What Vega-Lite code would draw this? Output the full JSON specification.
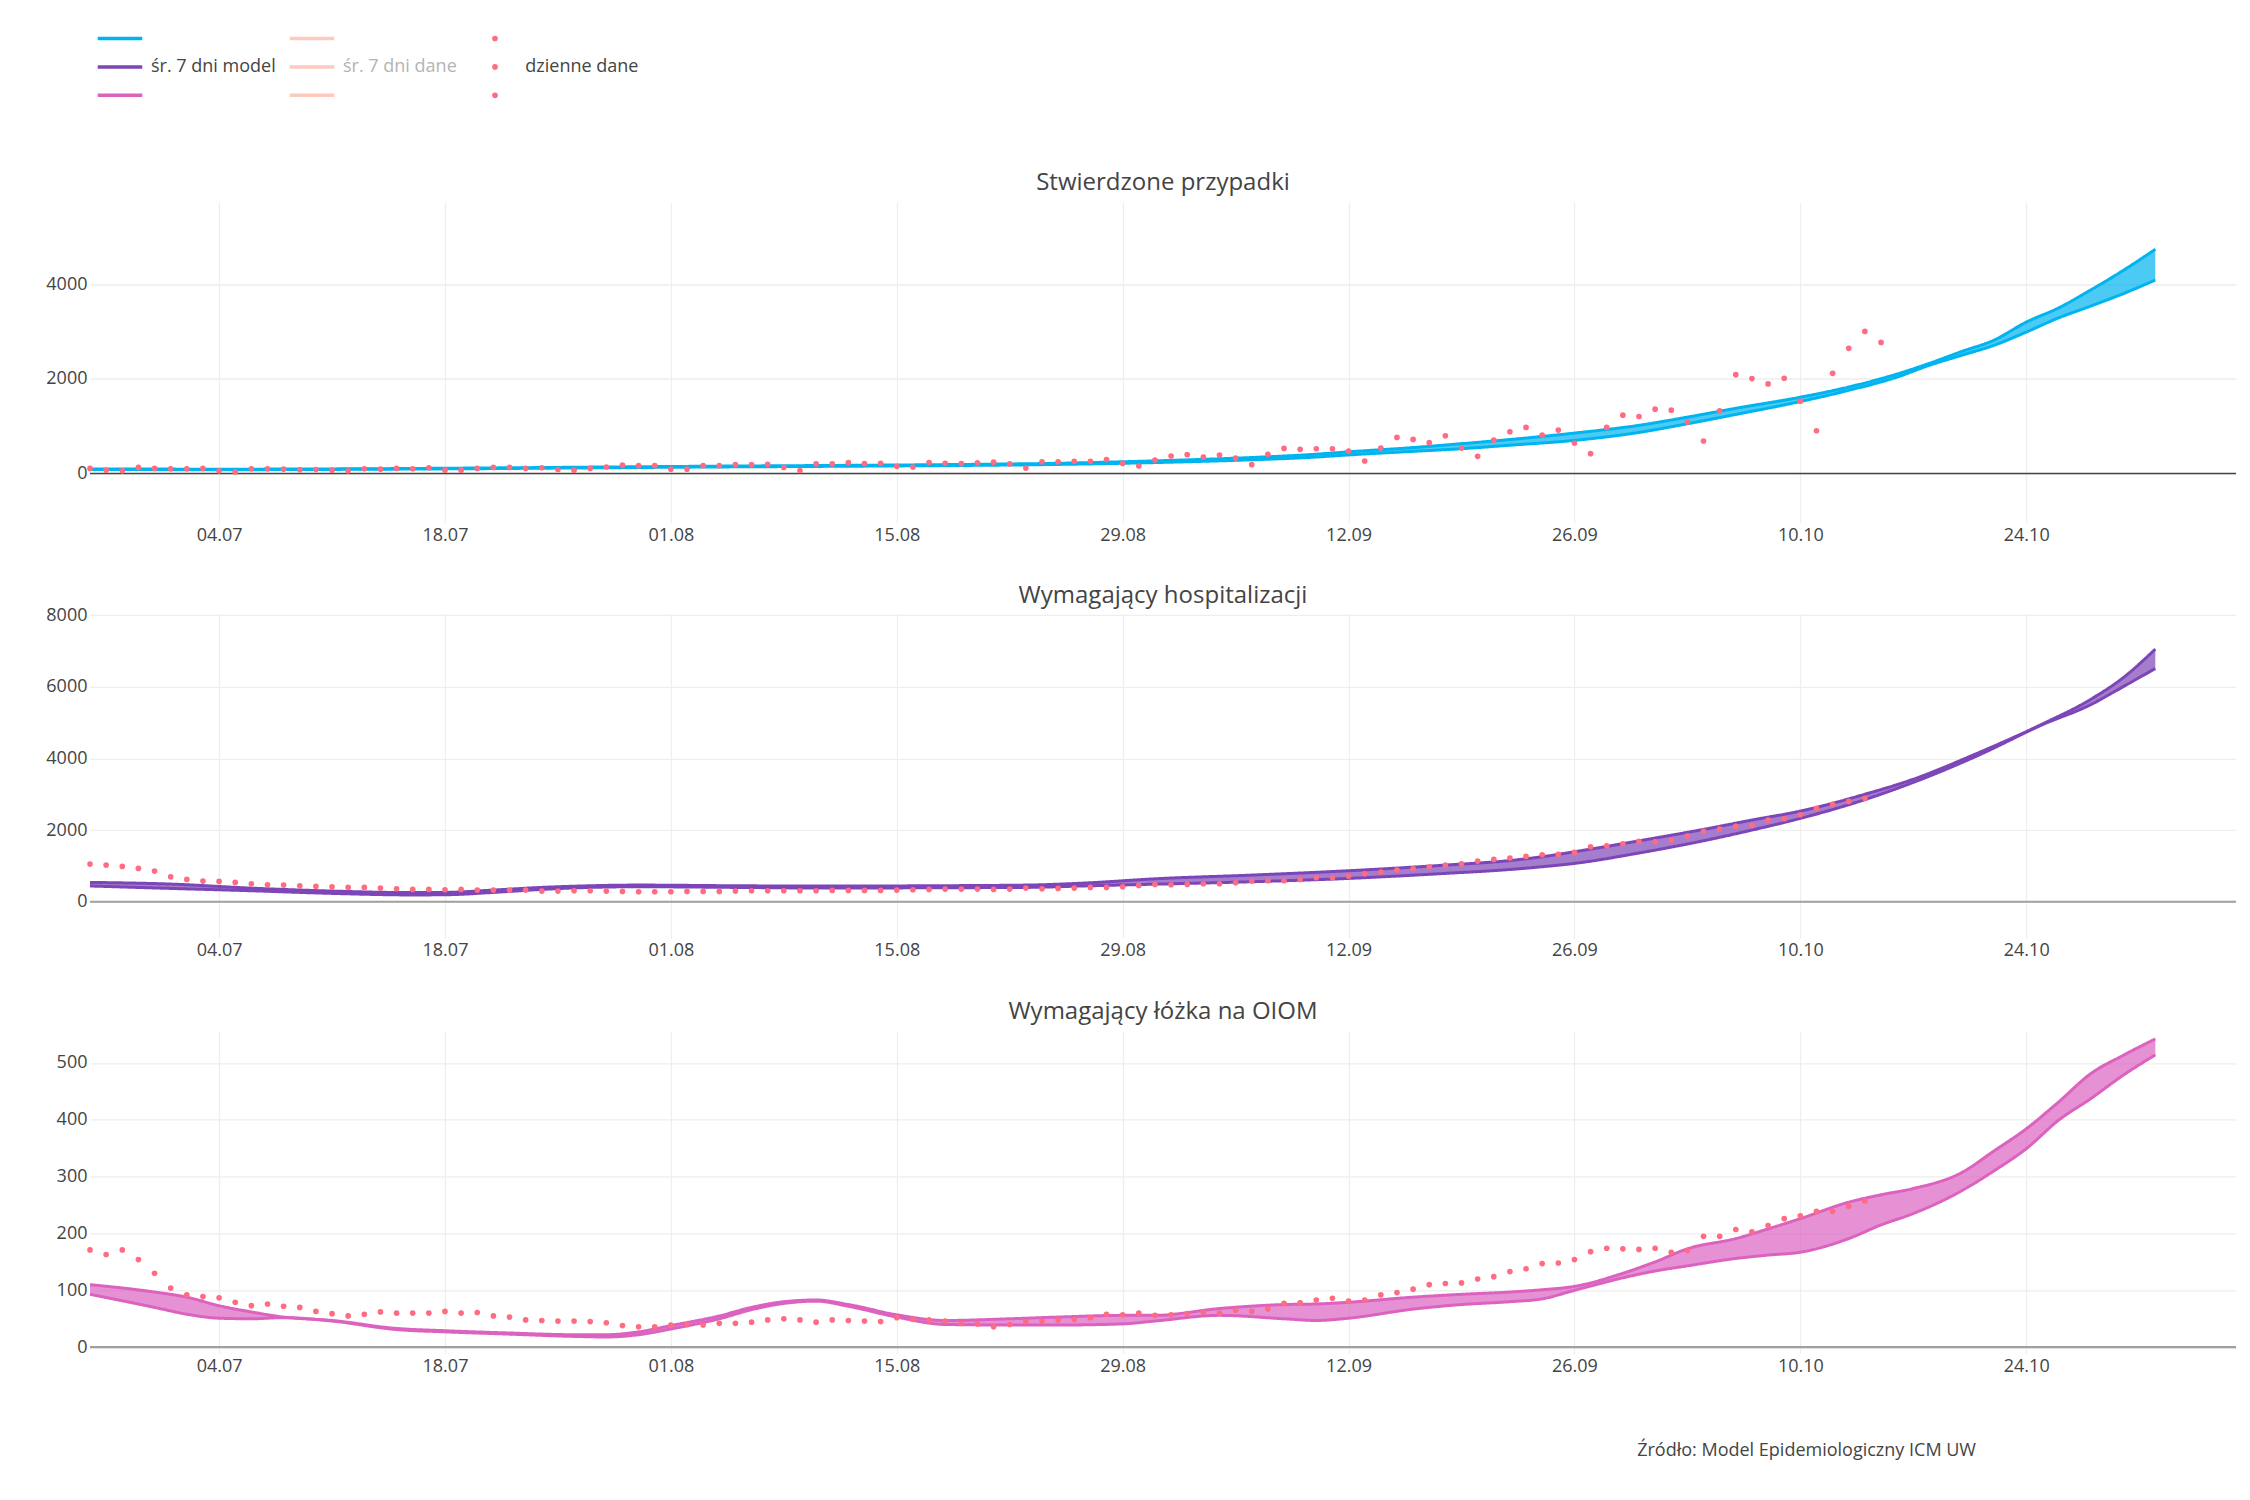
{
  "$schema": "https://vega.github.io/schema/vega-lite/v6.json",
  "padding": {"top": 29.5, "left": 44, "right": 10, "bottom": 10},
  "background": "white",
  "spacing": 39.4,
  "title": {"text": "Źródło: Model Epidemiologiczny ICM UW", "orient": "bottom", "anchor": "end", "dx": -260, "offset": 67, "fontSize": 18, "fontWeight": "normal", "color": "#444", "baseline": "top", "frame": "group"},
  "config": {
    "font": "Open Sans",
    "view": {"stroke": null},
    "axis": {"labelFont": "Open Sans", "labelFontSize": 18, "labelColor": "#444", "domain": false, "ticks": false, "tickSize": 0, "gridColor": "#eeeeee", "gridWidth": 1.3},
    "title": {"font": "Open Sans", "fontSize": 24, "fontWeight": "normal", "color": "#444"},
    "legend": {"labelFont": "Open Sans", "labelFontSize": 18}
  },
  "datasets": {
    "model": [
      {"panel":"przypadki","date":"2020-06-26","upper":100,"lower":88},
      {"panel":"przypadki","date":"2020-06-30","upper":96,"lower":84},
      {"panel":"przypadki","date":"2020-07-04","upper":93,"lower":82},
      {"panel":"przypadki","date":"2020-07-08","upper":96,"lower":85},
      {"panel":"przypadki","date":"2020-07-12","upper":101,"lower":90},
      {"panel":"przypadki","date":"2020-07-16","upper":108,"lower":96},
      {"panel":"przypadki","date":"2020-07-20","upper":118,"lower":104},
      {"panel":"przypadki","date":"2020-07-24","upper":128,"lower":114},
      {"panel":"przypadki","date":"2020-07-28","upper":140,"lower":124},
      {"panel":"przypadki","date":"2020-08-01","upper":150,"lower":134},
      {"panel":"przypadki","date":"2020-08-05","upper":160,"lower":143},
      {"panel":"przypadki","date":"2020-08-09","upper":168,"lower":150},
      {"panel":"przypadki","date":"2020-08-13","upper":177,"lower":158},
      {"panel":"przypadki","date":"2020-08-17","upper":187,"lower":167},
      {"panel":"przypadki","date":"2020-08-21","upper":200,"lower":178},
      {"panel":"przypadki","date":"2020-08-25","upper":218,"lower":194},
      {"panel":"przypadki","date":"2020-08-29","upper":250,"lower":218},
      {"panel":"przypadki","date":"2020-09-02","upper":290,"lower":250},
      {"panel":"przypadki","date":"2020-09-06","upper":340,"lower":292},
      {"panel":"przypadki","date":"2020-09-10","upper":410,"lower":350},
      {"panel":"przypadki","date":"2020-09-12","upper":460,"lower":395},
      {"panel":"przypadki","date":"2020-09-16","upper":550,"lower":470},
      {"panel":"przypadki","date":"2020-09-19","upper":632,"lower":526},
      {"panel":"przypadki","date":"2020-09-22","upper":720,"lower":600},
      {"panel":"przypadki","date":"2020-09-26","upper":856,"lower":702},
      {"panel":"przypadki","date":"2020-09-30","upper":1020,"lower":870},
      {"panel":"przypadki","date":"2020-10-03","upper":1193,"lower":1053},
      {"panel":"przypadki","date":"2020-10-06","upper":1380,"lower":1250},
      {"panel":"przypadki","date":"2020-10-10","upper":1614,"lower":1523},
      {"panel":"przypadki","date":"2020-10-13","upper":1830,"lower":1760},
      {"panel":"przypadki","date":"2020-10-16","upper":2105,"lower":2040},
      {"panel":"przypadki","date":"2020-10-18","upper":2330,"lower":2290},
      {"panel":"przypadki","date":"2020-10-20","upper":2580,"lower":2500},
      {"panel":"przypadki","date":"2020-10-22","upper":2820,"lower":2710},
      {"panel":"przypadki","date":"2020-10-24","upper":3200,"lower":2990},
      {"panel":"przypadki","date":"2020-10-26","upper":3500,"lower":3290},
      {"panel":"przypadki","date":"2020-10-28","upper":3880,"lower":3540},
      {"panel":"przypadki","date":"2020-10-30","upper":4290,"lower":3800},
      {"panel":"przypadki","date":"2020-11-01","upper":4740,"lower":4090},
      {"panel":"hospitalizacje","date":"2020-06-26","upper":540,"lower":440},
      {"panel":"hospitalizacje","date":"2020-07-01","upper":493,"lower":372},
      {"panel":"hospitalizacje","date":"2020-07-06","upper":380,"lower":307},
      {"panel":"hospitalizacje","date":"2020-07-11","upper":298,"lower":233},
      {"panel":"hospitalizacje","date":"2020-07-16","upper":255,"lower":190},
      {"panel":"hospitalizacje","date":"2020-07-18","upper":260,"lower":195},
      {"panel":"hospitalizacje","date":"2020-07-21","upper":326,"lower":260},
      {"panel":"hospitalizacje","date":"2020-07-24","upper":400,"lower":344},
      {"panel":"hospitalizacje","date":"2020-07-27","upper":446,"lower":400},
      {"panel":"hospitalizacje","date":"2020-07-30","upper":465,"lower":419},
      {"panel":"hospitalizacje","date":"2020-08-05","upper":446,"lower":400},
      {"panel":"hospitalizacje","date":"2020-08-11","upper":437,"lower":381},
      {"panel":"hospitalizacje","date":"2020-08-17","upper":446,"lower":390},
      {"panel":"hospitalizacje","date":"2020-08-23","upper":465,"lower":400},
      {"panel":"hospitalizacje","date":"2020-08-27","upper":530,"lower":446},
      {"panel":"hospitalizacje","date":"2020-08-31","upper":640,"lower":490},
      {"panel":"hospitalizacje","date":"2020-09-06","upper":744,"lower":558},
      {"panel":"hospitalizacje","date":"2020-09-12","upper":865,"lower":651},
      {"panel":"hospitalizacje","date":"2020-09-18","upper":1023,"lower":791},
      {"panel":"hospitalizacje","date":"2020-09-22","upper":1150,"lower":900},
      {"panel":"hospitalizacje","date":"2020-09-24","upper":1256,"lower":977},
      {"panel":"hospitalizacje","date":"2020-09-26","upper":1395,"lower":1070},
      {"panel":"hospitalizacje","date":"2020-09-30","upper":1700,"lower":1360},
      {"panel":"hospitalizacje","date":"2020-10-04","upper":2019,"lower":1702},
      {"panel":"hospitalizacje","date":"2020-10-07","upper":2280,"lower":2000},
      {"panel":"hospitalizacje","date":"2020-10-10","upper":2530,"lower":2326},
      {"panel":"hospitalizacje","date":"2020-10-14","upper":3000,"lower":2850},
      {"panel":"hospitalizacje","date":"2020-10-17","upper":3420,"lower":3330},
      {"panel":"hospitalizacje","date":"2020-10-21","upper":4150,"lower":4080},
      {"panel":"hospitalizacje","date":"2020-10-25","upper":4960,"lower":4940},
      {"panel":"hospitalizacje","date":"2020-10-28","upper":5650,"lower":5500},
      {"panel":"hospitalizacje","date":"2020-10-30","upper":6250,"lower":6000},
      {"panel":"hospitalizacje","date":"2020-11-01","upper":7050,"lower":6510},
      {"panel":"OIOM","date":"2020-06-26","upper":110,"lower":93},
      {"panel":"OIOM","date":"2020-06-30","upper":97,"lower":70},
      {"panel":"OIOM","date":"2020-07-02","upper":88,"lower":58},
      {"panel":"OIOM","date":"2020-07-04","upper":73,"lower":51},
      {"panel":"OIOM","date":"2020-07-06","upper":62,"lower":50},
      {"panel":"OIOM","date":"2020-07-08","upper":53,"lower":52},
      {"panel":"OIOM","date":"2020-07-11","upper":47,"lower":46},
      {"panel":"OIOM","date":"2020-07-15","upper":33,"lower":31},
      {"panel":"OIOM","date":"2020-07-18","upper":29,"lower":27},
      {"panel":"OIOM","date":"2020-07-22","upper":25,"lower":23},
      {"panel":"OIOM","date":"2020-07-26","upper":22,"lower":19},
      {"panel":"OIOM","date":"2020-07-28","upper":22,"lower":18},
      {"panel":"OIOM","date":"2020-07-30","upper":27,"lower":22},
      {"panel":"OIOM","date":"2020-08-01","upper":38,"lower":32},
      {"panel":"OIOM","date":"2020-08-04","upper":55,"lower":50},
      {"panel":"OIOM","date":"2020-08-06","upper":70,"lower":66},
      {"panel":"OIOM","date":"2020-08-08","upper":80,"lower":77},
      {"panel":"OIOM","date":"2020-08-10","upper":83,"lower":81},
      {"panel":"OIOM","date":"2020-08-12","upper":75,"lower":72},
      {"panel":"OIOM","date":"2020-08-15","upper":57,"lower":53},
      {"panel":"OIOM","date":"2020-08-18","upper":47,"lower":40},
      {"panel":"OIOM","date":"2020-08-22","upper":50,"lower":39},
      {"panel":"OIOM","date":"2020-08-25","upper":53,"lower":39},
      {"panel":"OIOM","date":"2020-08-29","upper":56,"lower":41},
      {"panel":"OIOM","date":"2020-08-31","upper":56,"lower":46},
      {"panel":"OIOM","date":"2020-09-04","upper":68,"lower":56},
      {"panel":"OIOM","date":"2020-09-08","upper":75,"lower":50},
      {"panel":"OIOM","date":"2020-09-10","upper":76,"lower":47},
      {"panel":"OIOM","date":"2020-09-12","upper":79,"lower":51},
      {"panel":"OIOM","date":"2020-09-16","upper":88,"lower":67},
      {"panel":"OIOM","date":"2020-09-19","upper":93,"lower":75},
      {"panel":"OIOM","date":"2020-09-22","upper":97,"lower":80},
      {"panel":"OIOM","date":"2020-09-24","upper":101,"lower":85},
      {"panel":"OIOM","date":"2020-09-26","upper":107,"lower":100},
      {"panel":"OIOM","date":"2020-09-29","upper":130,"lower":122},
      {"panel":"OIOM","date":"2020-10-01","upper":150,"lower":134},
      {"panel":"OIOM","date":"2020-10-03","upper":173,"lower":143},
      {"panel":"OIOM","date":"2020-10-06","upper":191,"lower":156},
      {"panel":"OIOM","date":"2020-10-08","upper":208,"lower":162},
      {"panel":"OIOM","date":"2020-10-10","upper":226,"lower":167},
      {"panel":"OIOM","date":"2020-10-13","upper":255,"lower":191},
      {"panel":"OIOM","date":"2020-10-15","upper":268,"lower":215},
      {"panel":"OIOM","date":"2020-10-17","upper":279,"lower":235},
      {"panel":"OIOM","date":"2020-10-20","upper":307,"lower":275},
      {"panel":"OIOM","date":"2020-10-22","upper":345,"lower":310},
      {"panel":"OIOM","date":"2020-10-24","upper":384,"lower":349},
      {"panel":"OIOM","date":"2020-10-26","upper":431,"lower":399},
      {"panel":"OIOM","date":"2020-10-28","upper":481,"lower":437},
      {"panel":"OIOM","date":"2020-10-30","upper":513,"lower":478},
      {"panel":"OIOM","date":"2020-11-01","upper":542,"lower":514}
    ],
    "daily": [
      {"panel":"przypadki","date":"2020-06-26","value":109},{"panel":"przypadki","date":"2020-06-27","value":73},{"panel":"przypadki","date":"2020-06-28","value":58},{"panel":"przypadki","date":"2020-06-29","value":131},{"panel":"przypadki","date":"2020-06-30","value":109},
      {"panel":"przypadki","date":"2020-07-01","value":102},{"panel":"przypadki","date":"2020-07-02","value":102},{"panel":"przypadki","date":"2020-07-03","value":109},{"panel":"przypadki","date":"2020-07-04","value":58},{"panel":"przypadki","date":"2020-07-05","value":36},
      {"panel":"przypadki","date":"2020-07-06","value":102},{"panel":"przypadki","date":"2020-07-07","value":102},{"panel":"przypadki","date":"2020-07-08","value":94},{"panel":"przypadki","date":"2020-07-09","value":81},{"panel":"przypadki","date":"2020-07-10","value":87},
      {"panel":"przypadki","date":"2020-07-11","value":73},{"panel":"przypadki","date":"2020-07-12","value":58},{"panel":"przypadki","date":"2020-07-13","value":102},{"panel":"przypadki","date":"2020-07-14","value":94},{"panel":"przypadki","date":"2020-07-15","value":109},
      {"panel":"przypadki","date":"2020-07-16","value":102},{"panel":"przypadki","date":"2020-07-17","value":124},{"panel":"przypadki","date":"2020-07-18","value":73},{"panel":"przypadki","date":"2020-07-19","value":73},{"panel":"przypadki","date":"2020-07-20","value":109},
      {"panel":"przypadki","date":"2020-07-21","value":131},{"panel":"przypadki","date":"2020-07-22","value":131},{"panel":"przypadki","date":"2020-07-23","value":109},{"panel":"przypadki","date":"2020-07-24","value":124},{"panel":"przypadki","date":"2020-07-25","value":87},
      {"panel":"przypadki","date":"2020-07-26","value":73},{"panel":"przypadki","date":"2020-07-27","value":109},{"panel":"przypadki","date":"2020-07-28","value":139},{"panel":"przypadki","date":"2020-07-29","value":182},{"panel":"przypadki","date":"2020-07-30","value":168},
      {"panel":"przypadki","date":"2020-07-31","value":168},{"panel":"przypadki","date":"2020-08-01","value":94},{"panel":"przypadki","date":"2020-08-02","value":94},{"panel":"przypadki","date":"2020-08-03","value":168},{"panel":"przypadki","date":"2020-08-04","value":168},
      {"panel":"przypadki","date":"2020-08-05","value":190},{"panel":"przypadki","date":"2020-08-06","value":190},{"panel":"przypadki","date":"2020-08-07","value":196},{"panel":"przypadki","date":"2020-08-08","value":131},{"panel":"przypadki","date":"2020-08-09","value":66},
      {"panel":"przypadki","date":"2020-08-10","value":204},{"panel":"przypadki","date":"2020-08-11","value":204},{"panel":"przypadki","date":"2020-08-12","value":233},{"panel":"przypadki","date":"2020-08-13","value":211},{"panel":"przypadki","date":"2020-08-14","value":218},
      {"panel":"przypadki","date":"2020-08-15","value":153},{"panel":"przypadki","date":"2020-08-16","value":139},{"panel":"przypadki","date":"2020-08-17","value":233},{"panel":"przypadki","date":"2020-08-18","value":218},{"panel":"przypadki","date":"2020-08-19","value":211},
      {"panel":"przypadki","date":"2020-08-20","value":226},{"panel":"przypadki","date":"2020-08-21","value":241},{"panel":"przypadki","date":"2020-08-22","value":204},{"panel":"przypadki","date":"2020-08-23","value":117},{"panel":"przypadki","date":"2020-08-24","value":248},
      {"panel":"przypadki","date":"2020-08-25","value":248},{"panel":"przypadki","date":"2020-08-26","value":262},{"panel":"przypadki","date":"2020-08-27","value":262},{"panel":"przypadki","date":"2020-08-28","value":299},{"panel":"przypadki","date":"2020-08-29","value":215},
      {"panel":"przypadki","date":"2020-08-30","value":160},{"panel":"przypadki","date":"2020-08-31","value":288},{"panel":"przypadki","date":"2020-09-01","value":372},{"panel":"przypadki","date":"2020-09-02","value":400},{"panel":"przypadki","date":"2020-09-03","value":351},
      {"panel":"przypadki","date":"2020-09-04","value":393},{"panel":"przypadki","date":"2020-09-05","value":330},{"panel":"przypadki","date":"2020-09-06","value":189},{"panel":"przypadki","date":"2020-09-07","value":407},{"panel":"przypadki","date":"2020-09-08","value":533},
      {"panel":"przypadki","date":"2020-09-09","value":512},{"panel":"przypadki","date":"2020-09-10","value":526},{"panel":"przypadki","date":"2020-09-11","value":526},{"panel":"przypadki","date":"2020-09-12","value":477},{"panel":"przypadki","date":"2020-09-13","value":267},
      {"panel":"przypadki","date":"2020-09-14","value":540},{"panel":"przypadki","date":"2020-09-15","value":765},{"panel":"przypadki","date":"2020-09-16","value":723},{"panel":"przypadki","date":"2020-09-17","value":653},{"panel":"przypadki","date":"2020-09-18","value":800},
      {"panel":"przypadki","date":"2020-09-19","value":540},{"panel":"przypadki","date":"2020-09-20","value":365},{"panel":"przypadki","date":"2020-09-21","value":709},{"panel":"przypadki","date":"2020-09-22","value":884},{"panel":"przypadki","date":"2020-09-23","value":976},
      {"panel":"przypadki","date":"2020-09-24","value":814},{"panel":"przypadki","date":"2020-09-25","value":919},{"panel":"przypadki","date":"2020-09-26","value":646},{"panel":"przypadki","date":"2020-09-27","value":421},{"panel":"przypadki","date":"2020-09-28","value":976},
      {"panel":"przypadki","date":"2020-09-29","value":1235},{"panel":"przypadki","date":"2020-09-30","value":1207},{"panel":"przypadki","date":"2020-10-01","value":1361},{"panel":"przypadki","date":"2020-10-02","value":1340},{"panel":"przypadki","date":"2020-10-03","value":1088},
      {"panel":"przypadki","date":"2020-10-04","value":688},{"panel":"przypadki","date":"2020-10-05","value":1326},{"panel":"przypadki","date":"2020-10-06","value":2091},{"panel":"przypadki","date":"2020-10-07","value":2007},{"panel":"przypadki","date":"2020-10-08","value":1895},
      {"panel":"przypadki","date":"2020-10-09","value":2014},{"panel":"przypadki","date":"2020-10-10","value":1530},{"panel":"przypadki","date":"2020-10-11","value":905},{"panel":"przypadki","date":"2020-10-12","value":2119},{"panel":"przypadki","date":"2020-10-13","value":2646},
      {"panel":"przypadki","date":"2020-10-14","value":3004},{"panel":"przypadki","date":"2020-10-15","value":2772},
      {"panel":"hospitalizacje","date":"2020-06-26","value":1051},{"panel":"hospitalizacje","date":"2020-06-27","value":1023},{"panel":"hospitalizacje","date":"2020-06-28","value":986},{"panel":"hospitalizacje","date":"2020-06-29","value":930},{"panel":"hospitalizacje","date":"2020-06-30","value":856},
      {"panel":"hospitalizacje","date":"2020-07-01","value":698},{"panel":"hospitalizacje","date":"2020-07-02","value":623},{"panel":"hospitalizacje","date":"2020-07-03","value":577},{"panel":"hospitalizacje","date":"2020-07-04","value":567},{"panel":"hospitalizacje","date":"2020-07-05","value":540},
      {"panel":"hospitalizacje","date":"2020-07-06","value":502},{"panel":"hospitalizacje","date":"2020-07-07","value":474},{"panel":"hospitalizacje","date":"2020-07-08","value":465},{"panel":"hospitalizacje","date":"2020-07-09","value":446},{"panel":"hospitalizacje","date":"2020-07-10","value":428},
      {"panel":"hospitalizacje","date":"2020-07-11","value":419},{"panel":"hospitalizacje","date":"2020-07-12","value":400},{"panel":"hospitalizacje","date":"2020-07-13","value":400},{"panel":"hospitalizacje","date":"2020-07-14","value":381},{"panel":"hospitalizacje","date":"2020-07-15","value":363},
      {"panel":"hospitalizacje","date":"2020-07-16","value":344},{"panel":"hospitalizacje","date":"2020-07-17","value":344},{"panel":"hospitalizacje","date":"2020-07-18","value":335},{"panel":"hospitalizacje","date":"2020-07-19","value":344},{"panel":"hospitalizacje","date":"2020-07-20","value":326},
      {"panel":"hospitalizacje","date":"2020-07-21","value":326},{"panel":"hospitalizacje","date":"2020-07-22","value":326},{"panel":"hospitalizacje","date":"2020-07-23","value":326},{"panel":"hospitalizacje","date":"2020-07-24","value":298},{"panel":"hospitalizacje","date":"2020-07-25","value":298},
      {"panel":"hospitalizacje","date":"2020-07-26","value":307},{"panel":"hospitalizacje","date":"2020-07-27","value":307},{"panel":"hospitalizacje","date":"2020-07-28","value":298},{"panel":"hospitalizacje","date":"2020-07-29","value":288},{"panel":"hospitalizacje","date":"2020-07-30","value":279},
      {"panel":"hospitalizacje","date":"2020-07-31","value":279},{"panel":"hospitalizacje","date":"2020-08-01","value":279},{"panel":"hospitalizacje","date":"2020-08-02","value":288},{"panel":"hospitalizacje","date":"2020-08-03","value":288},{"panel":"hospitalizacje","date":"2020-08-04","value":288},
      {"panel":"hospitalizacje","date":"2020-08-05","value":298},{"panel":"hospitalizacje","date":"2020-08-06","value":307},{"panel":"hospitalizacje","date":"2020-08-07","value":307},{"panel":"hospitalizacje","date":"2020-08-08","value":307},{"panel":"hospitalizacje","date":"2020-08-09","value":307},
      {"panel":"hospitalizacje","date":"2020-08-10","value":307},{"panel":"hospitalizacje","date":"2020-08-11","value":316},{"panel":"hospitalizacje","date":"2020-08-12","value":316},{"panel":"hospitalizacje","date":"2020-08-13","value":316},{"panel":"hospitalizacje","date":"2020-08-14","value":316},
      {"panel":"hospitalizacje","date":"2020-08-15","value":326},{"panel":"hospitalizacje","date":"2020-08-16","value":335},{"panel":"hospitalizacje","date":"2020-08-17","value":344},{"panel":"hospitalizacje","date":"2020-08-18","value":353},{"panel":"hospitalizacje","date":"2020-08-19","value":353},
      {"panel":"hospitalizacje","date":"2020-08-20","value":353},{"panel":"hospitalizacje","date":"2020-08-21","value":344},{"panel":"hospitalizacje","date":"2020-08-22","value":353},{"panel":"hospitalizacje","date":"2020-08-23","value":381},{"panel":"hospitalizacje","date":"2020-08-24","value":363},
      {"panel":"hospitalizacje","date":"2020-08-25","value":372},{"panel":"hospitalizacje","date":"2020-08-26","value":381},{"panel":"hospitalizacje","date":"2020-08-27","value":400},{"panel":"hospitalizacje","date":"2020-08-28","value":400},{"panel":"hospitalizacje","date":"2020-08-29","value":419},
      {"panel":"hospitalizacje","date":"2020-08-30","value":456},{"panel":"hospitalizacje","date":"2020-08-31","value":480},{"panel":"hospitalizacje","date":"2020-09-01","value":474},{"panel":"hospitalizacje","date":"2020-09-02","value":484},{"panel":"hospitalizacje","date":"2020-09-03","value":502},
      {"panel":"hospitalizacje","date":"2020-09-04","value":502},{"panel":"hospitalizacje","date":"2020-09-05","value":530},{"panel":"hospitalizacje","date":"2020-09-06","value":577},{"panel":"hospitalizacje","date":"2020-09-07","value":586},{"panel":"hospitalizacje","date":"2020-09-08","value":586},
      {"panel":"hospitalizacje","date":"2020-09-09","value":623},{"panel":"hospitalizacje","date":"2020-09-10","value":670},{"panel":"hospitalizacje","date":"2020-09-11","value":670},{"panel":"hospitalizacje","date":"2020-09-12","value":716},{"panel":"hospitalizacje","date":"2020-09-13","value":781},
      {"panel":"hospitalizacje","date":"2020-09-14","value":828},{"panel":"hospitalizacje","date":"2020-09-15","value":884},{"panel":"hospitalizacje","date":"2020-09-16","value":921},{"panel":"hospitalizacje","date":"2020-09-17","value":977},{"panel":"hospitalizacje","date":"2020-09-18","value":1023},
      {"panel":"hospitalizacje","date":"2020-09-19","value":1060},{"panel":"hospitalizacje","date":"2020-09-20","value":1135},{"panel":"hospitalizacje","date":"2020-09-21","value":1181},{"panel":"hospitalizacje","date":"2020-09-22","value":1219},{"panel":"hospitalizacje","date":"2020-09-23","value":1265},
      {"panel":"hospitalizacje","date":"2020-09-24","value":1312},{"panel":"hospitalizacje","date":"2020-09-25","value":1321},{"panel":"hospitalizacje","date":"2020-09-26","value":1377},{"panel":"hospitalizacje","date":"2020-09-27","value":1535},{"panel":"hospitalizacje","date":"2020-09-28","value":1563},
      {"panel":"hospitalizacje","date":"2020-09-29","value":1619},{"panel":"hospitalizacje","date":"2020-09-30","value":1684},{"panel":"hospitalizacje","date":"2020-10-01","value":1674},{"panel":"hospitalizacje","date":"2020-10-02","value":1721},{"panel":"hospitalizacje","date":"2020-10-03","value":1833},
      {"panel":"hospitalizacje","date":"2020-10-04","value":1963},{"panel":"hospitalizacje","date":"2020-10-05","value":2028},{"panel":"hospitalizacje","date":"2020-10-06","value":2102},{"panel":"hospitalizacje","date":"2020-10-07","value":2130},{"panel":"hospitalizacje","date":"2020-10-08","value":2279},
      {"panel":"hospitalizacje","date":"2020-10-09","value":2316},{"panel":"hospitalizacje","date":"2020-10-10","value":2428},{"panel":"hospitalizacje","date":"2020-10-11","value":2605},{"panel":"hospitalizacje","date":"2020-10-12","value":2716},{"panel":"hospitalizacje","date":"2020-10-13","value":2800},
      {"panel":"hospitalizacje","date":"2020-10-14","value":2884},
      {"panel":"OIOM","date":"2020-06-26","value":171},{"panel":"OIOM","date":"2020-06-27","value":163},{"panel":"OIOM","date":"2020-06-28","value":171},{"panel":"OIOM","date":"2020-06-29","value":154},{"panel":"OIOM","date":"2020-06-30","value":130},
      {"panel":"OIOM","date":"2020-07-01","value":104},{"panel":"OIOM","date":"2020-07-02","value":92},{"panel":"OIOM","date":"2020-07-03","value":89},{"panel":"OIOM","date":"2020-07-04","value":87},{"panel":"OIOM","date":"2020-07-05","value":79},
      {"panel":"OIOM","date":"2020-07-06","value":73},{"panel":"OIOM","date":"2020-07-07","value":76},{"panel":"OIOM","date":"2020-07-08","value":72},{"panel":"OIOM","date":"2020-07-09","value":70},{"panel":"OIOM","date":"2020-07-10","value":63},
      {"panel":"OIOM","date":"2020-07-11","value":59},{"panel":"OIOM","date":"2020-07-12","value":55},{"panel":"OIOM","date":"2020-07-13","value":58},{"panel":"OIOM","date":"2020-07-14","value":62},{"panel":"OIOM","date":"2020-07-15","value":60},
      {"panel":"OIOM","date":"2020-07-16","value":60},{"panel":"OIOM","date":"2020-07-17","value":60},{"panel":"OIOM","date":"2020-07-18","value":63},{"panel":"OIOM","date":"2020-07-19","value":60},{"panel":"OIOM","date":"2020-07-20","value":61},
      {"panel":"OIOM","date":"2020-07-21","value":55},{"panel":"OIOM","date":"2020-07-22","value":53},{"panel":"OIOM","date":"2020-07-23","value":48},{"panel":"OIOM","date":"2020-07-24","value":47},{"panel":"OIOM","date":"2020-07-25","value":46},
      {"panel":"OIOM","date":"2020-07-26","value":46},{"panel":"OIOM","date":"2020-07-27","value":45},{"panel":"OIOM","date":"2020-07-28","value":43},{"panel":"OIOM","date":"2020-07-29","value":38},{"panel":"OIOM","date":"2020-07-30","value":36},
      {"panel":"OIOM","date":"2020-07-31","value":36},{"panel":"OIOM","date":"2020-08-01","value":39},{"panel":"OIOM","date":"2020-08-02","value":40},{"panel":"OIOM","date":"2020-08-03","value":39},{"panel":"OIOM","date":"2020-08-04","value":42},
      {"panel":"OIOM","date":"2020-08-05","value":42},{"panel":"OIOM","date":"2020-08-06","value":44},{"panel":"OIOM","date":"2020-08-07","value":48},{"panel":"OIOM","date":"2020-08-08","value":50},{"panel":"OIOM","date":"2020-08-09","value":48},
      {"panel":"OIOM","date":"2020-08-10","value":44},{"panel":"OIOM","date":"2020-08-11","value":48},{"panel":"OIOM","date":"2020-08-12","value":47},{"panel":"OIOM","date":"2020-08-13","value":46},{"panel":"OIOM","date":"2020-08-14","value":45},
      {"panel":"OIOM","date":"2020-08-15","value":52},{"panel":"OIOM","date":"2020-08-16","value":49},{"panel":"OIOM","date":"2020-08-17","value":48},{"panel":"OIOM","date":"2020-08-18","value":46},{"panel":"OIOM","date":"2020-08-19","value":42},
      {"panel":"OIOM","date":"2020-08-20","value":41},{"panel":"OIOM","date":"2020-08-21","value":36},{"panel":"OIOM","date":"2020-08-22","value":40},{"panel":"OIOM","date":"2020-08-23","value":45},{"panel":"OIOM","date":"2020-08-24","value":46},
      {"panel":"OIOM","date":"2020-08-25","value":48},{"panel":"OIOM","date":"2020-08-26","value":49},{"panel":"OIOM","date":"2020-08-27","value":52},{"panel":"OIOM","date":"2020-08-28","value":58},{"panel":"OIOM","date":"2020-08-29","value":57},
      {"panel":"OIOM","date":"2020-08-30","value":60},{"panel":"OIOM","date":"2020-08-31","value":56},{"panel":"OIOM","date":"2020-09-01","value":57},{"panel":"OIOM","date":"2020-09-02","value":59},{"panel":"OIOM","date":"2020-09-03","value":62},
      {"panel":"OIOM","date":"2020-09-04","value":60},{"panel":"OIOM","date":"2020-09-05","value":65},{"panel":"OIOM","date":"2020-09-06","value":63},{"panel":"OIOM","date":"2020-09-07","value":67},{"panel":"OIOM","date":"2020-09-08","value":77},
      {"panel":"OIOM","date":"2020-09-09","value":78},{"panel":"OIOM","date":"2020-09-10","value":83},{"panel":"OIOM","date":"2020-09-11","value":86},{"panel":"OIOM","date":"2020-09-12","value":81},{"panel":"OIOM","date":"2020-09-13","value":83},
      {"panel":"OIOM","date":"2020-09-14","value":92},{"panel":"OIOM","date":"2020-09-15","value":96},{"panel":"OIOM","date":"2020-09-16","value":102},{"panel":"OIOM","date":"2020-09-17","value":110},{"panel":"OIOM","date":"2020-09-18","value":112},
      {"panel":"OIOM","date":"2020-09-19","value":113},{"panel":"OIOM","date":"2020-09-20","value":120},{"panel":"OIOM","date":"2020-09-21","value":124},{"panel":"OIOM","date":"2020-09-22","value":133},{"panel":"OIOM","date":"2020-09-23","value":138},
      {"panel":"OIOM","date":"2020-09-24","value":147},{"panel":"OIOM","date":"2020-09-25","value":148},{"panel":"OIOM","date":"2020-09-26","value":154},{"panel":"OIOM","date":"2020-09-27","value":168},{"panel":"OIOM","date":"2020-09-28","value":174},
      {"panel":"OIOM","date":"2020-09-29","value":173},{"panel":"OIOM","date":"2020-09-30","value":172},{"panel":"OIOM","date":"2020-10-01","value":174},{"panel":"OIOM","date":"2020-10-02","value":167},{"panel":"OIOM","date":"2020-10-03","value":170},
      {"panel":"OIOM","date":"2020-10-04","value":195},{"panel":"OIOM","date":"2020-10-05","value":195},{"panel":"OIOM","date":"2020-10-06","value":207},{"panel":"OIOM","date":"2020-10-07","value":203},{"panel":"OIOM","date":"2020-10-08","value":214},
      {"panel":"OIOM","date":"2020-10-09","value":226},{"panel":"OIOM","date":"2020-10-10","value":231},{"panel":"OIOM","date":"2020-10-11","value":239},{"panel":"OIOM","date":"2020-10-12","value":239},{"panel":"OIOM","date":"2020-10-13","value":248},
      {"panel":"OIOM","date":"2020-10-14","value":257}
    ]
  },
  "vconcat": [
    {
      "width": 2146, "height": 320,
      "title": {"text": "Stwierdzone przypadki", "frame": "group", "offset": -11.6, "baseline": "alphabetic"},
      "layer": [
        {"data": {"values": [{}]}, "mark": {"type": "rule", "color": "#444", "strokeWidth": 1.5},
         "encoding": {"y": {"datum": 0, "type": "quantitative", "title": null, "scale": {"domain": [-1033, 5728]}, "axis": {"values": [0, 2000, 4000], "format": "d", "labelPadding": 3, "minExtent": 46, "maxExtent": 46, "grid": true, "title": null}}}},
        {"data": {"name": "model"}, "transform": [{"filter": "datum.panel === 'przypadki'"}],
         "mark": {"type": "area", "fillOpacity": 0.7, "interpolate": "monotone"},
         "encoding": {
           "x": {"field": "date", "type": "temporal", "title": null, "scale": {"type": "utc", "domain": [{"year": 2020, "month": 6, "date": 26, "utc": true}, {"year": 2020, "month": 11, "date": 6, "utc": true}]},
                 "axis": {"values": [{"year":2020,"month":7,"date":4,"utc":true},{"year":2020,"month":7,"date":18,"utc":true},{"year":2020,"month":8,"date":1,"utc":true},{"year":2020,"month":8,"date":15,"utc":true},{"year":2020,"month":8,"date":29,"utc":true},{"year":2020,"month":9,"date":12,"utc":true},{"year":2020,"month":9,"date":26,"utc":true},{"year":2020,"month":10,"date":10,"utc":true},{"year":2020,"month":10,"date":24,"utc":true}], "format": "%d.%m", "labelPadding": 13, "labelBaseline": "middle", "grid": true, "title": null}},
           "y": {"field": "upper", "type": "quantitative", "title": null, "scale": {"domain": [-1033, 5728]}},
           "y2": {"field": "lower"},
           "fill": {"field": "panel", "type": "nominal", "scale": {"domain": ["OIOM", "hospitalizacje", "przypadki"], "range": ["#dc62c0", "#7d46b8", "#00b4ef"]}, "legend": null}
         }},
        {"data": {"name": "model"}, "transform": [{"filter": "datum.panel === 'przypadki'"}],
         "mark": {"type": "line", "strokeWidth": 3, "interpolate": "monotone"},
         "encoding": {
           "x": {"field": "date", "type": "temporal", "title": null, "scale": {"type": "utc", "domain": [{"year": 2020, "month": 6, "date": 26, "utc": true}, {"year": 2020, "month": 11, "date": 6, "utc": true}]}},
           "y": {"field": "upper", "type": "quantitative", "title": null, "scale": {"domain": [-1033, 5728]}},
           "color": {"field": "panel", "type": "nominal", "scale": {"domain": ["przypadki", "hospitalizacje", "OIOM"], "range": ["#00b4ef", "#7d46b8", "#dc62c0"]},
                     "legend": {"orient": "none", "legendX": 21, "legendY": -173, "direction": "vertical", "title": null, "symbolType": "M-4,0H4", "symbolSize": 124, "symbolStrokeWidth": 3.5, "labelExpr": "datum.value === 'hospitalizacje' ? 'śr. 7 dni model' : ' '", "labelFontSize": 18, "labelColor": "#444", "labelOffset": 22, "rowPadding": 10.4, "padding": 0}},
           "strokeDash": {"field": "panel", "type": "nominal", "scale": {"range": [[1, 0], [1, 0], [1, 0]]},
                     "legend": {"orient": "none", "legendX": 213, "legendY": -173, "direction": "vertical", "title": null, "symbolType": "M-4,0H4", "symbolSize": 124, "symbolStrokeWidth": 3.5, "symbolStrokeColor": "#ffc9bd", "labelExpr": "datum.value === 'hospitalizacje' ? 'śr. 7 dni dane' : ' '", "labelFontSize": 18, "labelColor": "#b4b4b4", "labelOffset": 22, "rowPadding": 10.4, "padding": 0}}
         }},
        {"data": {"name": "model"}, "transform": [{"filter": "datum.panel === 'przypadki'"}],
         "mark": {"type": "line", "strokeWidth": 3, "interpolate": "monotone"},
         "encoding": {
           "x": {"field": "date", "type": "temporal", "title": null, "scale": {"type": "utc", "domain": [{"year": 2020, "month": 6, "date": 26, "utc": true}, {"year": 2020, "month": 11, "date": 6, "utc": true}]}},
           "y": {"field": "lower", "type": "quantitative", "title": null, "scale": {"domain": [-1033, 5728]}},
           "color": {"field": "panel", "type": "nominal", "scale": {"domain": ["przypadki", "hospitalizacje", "OIOM"], "range": ["#00b4ef", "#7d46b8", "#dc62c0"]}},
           "strokeDash": {"field": "panel", "type": "nominal", "scale": {"range": [[1, 0], [1, 0], [1, 0]]}}
         }},
        {"data": {"name": "daily"}, "transform": [{"filter": "datum.panel === 'przypadki'"}],
         "mark": {"type": "point", "filled": true, "color": "#ff6b81", "opacity": 1, "size": 32},
         "encoding": {
           "x": {"field": "date", "type": "temporal", "title": null, "scale": {"type": "utc", "domain": [{"year": 2020, "month": 6, "date": 26, "utc": true}, {"year": 2020, "month": 11, "date": 6, "utc": true}]}},
           "y": {"field": "value", "type": "quantitative", "title": null, "scale": {"domain": [-1033, 5728]}},
           "shape": {"field": "panel", "type": "nominal", "scale": {"range": ["circle", "circle", "circle"]},
                     "legend": {"orient": "none", "legendX": 396, "legendY": -173, "direction": "vertical", "title": null, "symbolType": "circle", "symbolSize": 32, "symbolFillColor": "#ff6b81", "symbolStrokeWidth": 0, "labelExpr": "datum.value === 'hospitalizacje' ? 'dzienne dane' : ' '", "labelFontSize": 18, "labelColor": "#444", "labelOffset": 21.3, "rowPadding": 10.4, "padding": 0}}
         }}
      ]
    },
    {
      "width": 2146, "height": 324,
      "title": {"text": "Wymagający hospitalizacji", "frame": "group", "offset": -20.9, "baseline": "alphabetic"},
      "layer": [
        {"data": {"values": [{}]}, "mark": {"type": "rule", "color": "#a0a0a0", "strokeWidth": 2.2},
         "encoding": {"y": {"datum": 0, "type": "quantitative", "title": null, "scale": {"domain": [-1009, 8033]}, "axis": {"values": [0, 2000, 4000, 6000, 8000], "format": "d", "labelPadding": 3, "minExtent": 46, "maxExtent": 46, "grid": true, "title": null}}}},
        {"data": {"name": "model"}, "transform": [{"filter": "datum.panel === 'hospitalizacje'"}],
         "mark": {"type": "area", "fillOpacity": 0.7, "interpolate": "monotone"},
         "encoding": {
           "x": {"field": "date", "type": "temporal", "title": null, "scale": {"type": "utc", "domain": [{"year": 2020, "month": 6, "date": 26, "utc": true}, {"year": 2020, "month": 11, "date": 6, "utc": true}]},
                 "axis": {"values": [{"year":2020,"month":7,"date":4,"utc":true},{"year":2020,"month":7,"date":18,"utc":true},{"year":2020,"month":8,"date":1,"utc":true},{"year":2020,"month":8,"date":15,"utc":true},{"year":2020,"month":8,"date":29,"utc":true},{"year":2020,"month":9,"date":12,"utc":true},{"year":2020,"month":9,"date":26,"utc":true},{"year":2020,"month":10,"date":10,"utc":true},{"year":2020,"month":10,"date":24,"utc":true}], "format": "%d.%m", "labelPadding": 13, "labelBaseline": "middle", "grid": true, "title": null}},
           "y": {"field": "upper", "type": "quantitative", "title": null, "scale": {"domain": [-1009, 8033]}},
           "y2": {"field": "lower"},
           "fill": {"field": "panel", "type": "nominal", "scale": {"domain": ["OIOM", "hospitalizacje", "przypadki"], "range": ["#dc62c0", "#7d46b8", "#00b4ef"]}, "legend": null}
         }},
        {"data": {"name": "model"}, "transform": [{"filter": "datum.panel === 'hospitalizacje'"}],
         "mark": {"type": "line", "strokeWidth": 3, "interpolate": "monotone"},
         "encoding": {
           "x": {"field": "date", "type": "temporal", "title": null, "scale": {"type": "utc", "domain": [{"year": 2020, "month": 6, "date": 26, "utc": true}, {"year": 2020, "month": 11, "date": 6, "utc": true}]}},
           "y": {"field": "upper", "type": "quantitative", "title": null, "scale": {"domain": [-1009, 8033]}},
           "color": {"field": "panel", "type": "nominal", "scale": {"domain": ["przypadki", "hospitalizacje", "OIOM"], "range": ["#00b4ef", "#7d46b8", "#dc62c0"]}},
           "strokeDash": {"field": "panel", "type": "nominal", "scale": {"range": [[1, 0], [1, 0], [1, 0]]}}
         }},
        {"data": {"name": "model"}, "transform": [{"filter": "datum.panel === 'hospitalizacje'"}],
         "mark": {"type": "line", "strokeWidth": 3, "interpolate": "monotone"},
         "encoding": {
           "x": {"field": "date", "type": "temporal", "title": null, "scale": {"type": "utc", "domain": [{"year": 2020, "month": 6, "date": 26, "utc": true}, {"year": 2020, "month": 11, "date": 6, "utc": true}]}},
           "y": {"field": "lower", "type": "quantitative", "title": null, "scale": {"domain": [-1009, 8033]}},
           "color": {"field": "panel", "type": "nominal", "scale": {"domain": ["przypadki", "hospitalizacje", "OIOM"], "range": ["#00b4ef", "#7d46b8", "#dc62c0"]}},
           "strokeDash": {"field": "panel", "type": "nominal", "scale": {"range": [[1, 0], [1, 0], [1, 0]]}}
         }},
        {"data": {"name": "daily"}, "transform": [{"filter": "datum.panel === 'hospitalizacje'"}],
         "mark": {"type": "point", "filled": true, "color": "#ff6b81", "opacity": 1, "size": 32},
         "encoding": {
           "x": {"field": "date", "type": "temporal", "title": null, "scale": {"type": "utc", "domain": [{"year": 2020, "month": 6, "date": 26, "utc": true}, {"year": 2020, "month": 11, "date": 6, "utc": true}]}},
           "y": {"field": "value", "type": "quantitative", "title": null, "scale": {"domain": [-1009, 8033]}},
           "shape": {"field": "panel", "type": "nominal", "scale": {"range": ["circle", "circle", "circle"]}}
         }}
      ]
    },
    {
      "width": 2146, "height": 322,
      "title": {"text": "Wymagający łóżka na OIOM", "frame": "group", "offset": -11.6, "baseline": "alphabetic"},
      "layer": [
        {"data": {"values": [{}]}, "mark": {"type": "rule", "color": "#a0a0a0", "strokeWidth": 2.2},
         "encoding": {"y": {"datum": 0, "type": "quantitative", "title": null, "scale": {"domain": [-10.7, 555.4]}, "axis": {"values": [0, 100, 200, 300, 400, 500], "format": "d", "labelPadding": 3, "minExtent": 46, "maxExtent": 46, "grid": true, "title": null}}}},
        {"data": {"name": "model"}, "transform": [{"filter": "datum.panel === 'OIOM'"}],
         "mark": {"type": "area", "fillOpacity": 0.7, "interpolate": "monotone"},
         "encoding": {
           "x": {"field": "date", "type": "temporal", "title": null, "scale": {"type": "utc", "domain": [{"year": 2020, "month": 6, "date": 26, "utc": true}, {"year": 2020, "month": 11, "date": 6, "utc": true}]},
                 "axis": {"values": [{"year":2020,"month":7,"date":4,"utc":true},{"year":2020,"month":7,"date":18,"utc":true},{"year":2020,"month":8,"date":1,"utc":true},{"year":2020,"month":8,"date":15,"utc":true},{"year":2020,"month":8,"date":29,"utc":true},{"year":2020,"month":9,"date":12,"utc":true},{"year":2020,"month":9,"date":26,"utc":true},{"year":2020,"month":10,"date":10,"utc":true},{"year":2020,"month":10,"date":24,"utc":true}], "format": "%d.%m", "labelPadding": 13, "labelBaseline": "middle", "grid": true, "title": null}},
           "y": {"field": "upper", "type": "quantitative", "title": null, "scale": {"domain": [-10.7, 555.4]}},
           "y2": {"field": "lower"},
           "fill": {"field": "panel", "type": "nominal", "scale": {"domain": ["OIOM", "hospitalizacje", "przypadki"], "range": ["#dc62c0", "#7d46b8", "#00b4ef"]}, "legend": null}
         }},
        {"data": {"name": "model"}, "transform": [{"filter": "datum.panel === 'OIOM'"}],
         "mark": {"type": "line", "strokeWidth": 3, "interpolate": "monotone"},
         "encoding": {
           "x": {"field": "date", "type": "temporal", "title": null, "scale": {"type": "utc", "domain": [{"year": 2020, "month": 6, "date": 26, "utc": true}, {"year": 2020, "month": 11, "date": 6, "utc": true}]}},
           "y": {"field": "upper", "type": "quantitative", "title": null, "scale": {"domain": [-10.7, 555.4]}},
           "color": {"field": "panel", "type": "nominal", "scale": {"domain": ["przypadki", "hospitalizacje", "OIOM"], "range": ["#00b4ef", "#7d46b8", "#dc62c0"]}},
           "strokeDash": {"field": "panel", "type": "nominal", "scale": {"range": [[1, 0], [1, 0], [1, 0]]}}
         }},
        {"data": {"name": "model"}, "transform": [{"filter": "datum.panel === 'OIOM'"}],
         "mark": {"type": "line", "strokeWidth": 3, "interpolate": "monotone"},
         "encoding": {
           "x": {"field": "date", "type": "temporal", "title": null, "scale": {"type": "utc", "domain": [{"year": 2020, "month": 6, "date": 26, "utc": true}, {"year": 2020, "month": 11, "date": 6, "utc": true}]}},
           "y": {"field": "lower", "type": "quantitative", "title": null, "scale": {"domain": [-10.7, 555.4]}},
           "color": {"field": "panel", "type": "nominal", "scale": {"domain": ["przypadki", "hospitalizacje", "OIOM"], "range": ["#00b4ef", "#7d46b8", "#dc62c0"]}},
           "strokeDash": {"field": "panel", "type": "nominal", "scale": {"range": [[1, 0], [1, 0], [1, 0]]}}
         }},
        {"data": {"name": "daily"}, "transform": [{"filter": "datum.panel === 'OIOM'"}],
         "mark": {"type": "point", "filled": true, "color": "#ff6b81", "opacity": 1, "size": 32},
         "encoding": {
           "x": {"field": "date", "type": "temporal", "title": null, "scale": {"type": "utc", "domain": [{"year": 2020, "month": 6, "date": 26, "utc": true}, {"year": 2020, "month": 11, "date": 6, "utc": true}]}},
           "y": {"field": "value", "type": "quantitative", "title": null, "scale": {"domain": [-10.7, 555.4]}},
           "shape": {"field": "panel", "type": "nominal", "scale": {"range": ["circle", "circle", "circle"]}}
         }}
      ]
    }
  ]
}
